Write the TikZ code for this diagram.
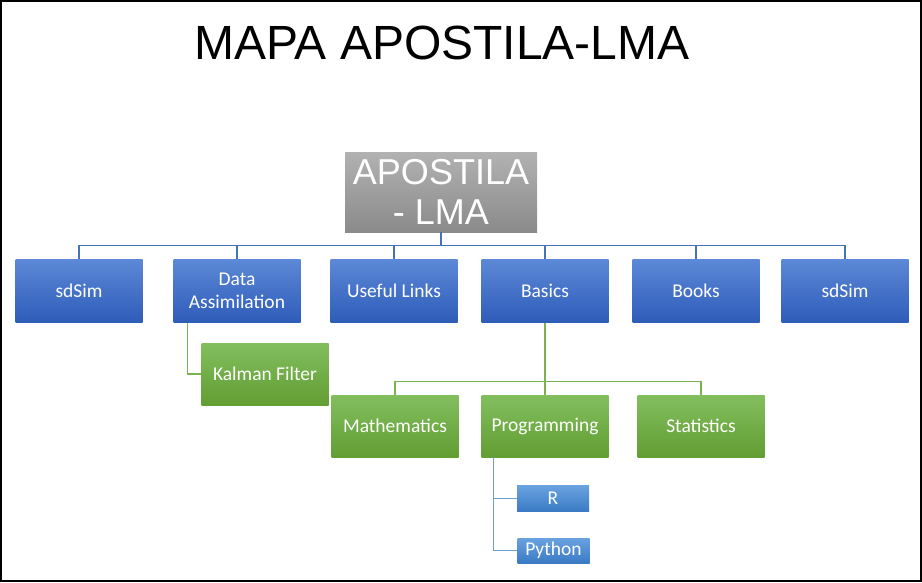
\documentclass[tikz,border=0pt]{standalone}
\usepackage{fontspec}
\setmainfont{Carlito}
\newfontfamily\arialfont{Liberation Sans}
\usepackage{xcolor}
\usepackage{tikz}
\usetikzlibrary{calc, positioning}

\definecolor{blueTop}{RGB}{92,136,215}
\definecolor{blueBot}{RGB}{46,92,184}
\definecolor{greenTop}{RGB}{130,190,94}
\definecolor{greenBot}{RGB}{98,158,50}
\definecolor{grayTop}{RGB}{178,178,178}
\definecolor{grayBot}{RGB}{138,138,138}
\definecolor{skyTop}{RGB}{106,162,224}
\definecolor{skyBot}{RGB}{58,122,196}
\definecolor{blueLine}{RGB}{70,114,184}
\definecolor{greenLine}{RGB}{122,178,82}
\definecolor{skyLine}{RGB}{108,158,214}

\tikzset{
    box/.style={inner sep=0pt, text=white, align=center,
        font=\fontsize{19.5}{23}\selectfont},
    bluebox/.style={box, top color=blueTop, bottom color=blueBot,
        minimum width=127pt, minimum height=63pt},
    greenbox/.style={box, top color=greenTop, bottom color=greenBot,
        minimum width=127pt, minimum height=62pt},
    skybox/.style={box, top color=skyTop, bottom color=skyBot,
        minimum width=72pt, minimum height=26pt},
    bluelink/.style={blueLine, line width=1.2pt},
    greenlink/.style={greenLine, line width=1.2pt},
    skylink/.style={skyLine, line width=1.2pt}
}

\begin{document}
\begin{tikzpicture}[x=1pt, y=-1pt]
    \useasboundingbox (0,0) rectangle (922,582);
    % Moldura
    \draw[line width=2pt] (1,1) rectangle (921,581);

    % Titulo
    \node[font=\arialfont\fontsize{48}{48}\selectfont, anchor=base] (titulo) at (442,59) {MAPA APOSTILA-LMA};

    % Raiz
    \node[inner sep=0pt, text=white, align=center, top color=grayTop, bottom color=grayBot,
        minimum width=192pt, minimum height=80pt,
        font=\arialfont\fontsize{36}{40}\selectfont] (raiz) at (441,192) {APOSTILA\\- LMA};

    % Primeiro nivel
    \foreach \x/\n/\t in {79/sdsim/sdSim, 237/assim/{Data\\Assimilation}, 394/links/Useful Links,
                          545/basics/Basics, 696/books/Books, 845/sdsimb/sdSim} {
        \node[bluebox] (\n) at (\x,291) {\t};
        \draw[bluelink] (raiz.south) -- ++(0,13) -| (\n.north);
    }

    % Data Assimilation
    \node[greenbox] (kalman) at (265,374) {Kalman Filter};
    \draw[greenlink] ([xshift=14pt]assim.south west) |- (kalman.west);

    % Basics
    \foreach \x/\n/\t in {395/mat/Mathematics, 545/prog/Programming, 701/stat/Statistics} {
        \node[greenbox] (\n) at (\x,426) {\t};
        \draw[greenlink] (basics.south) -- ++(0,59) -| (\n.north);
    }

    % Programming
    \node[skybox] (r) at (553,498.5) {R};
    \node[skybox, minimum height=25pt] (python) at (553.5,550.5) {Python};
    \draw[skylink] ([xshift=12pt]prog.south west) |- (r.west);
    \draw[skylink] ([xshift=12pt]prog.south west) |- (python.west);
\end{tikzpicture}
\end{document}
